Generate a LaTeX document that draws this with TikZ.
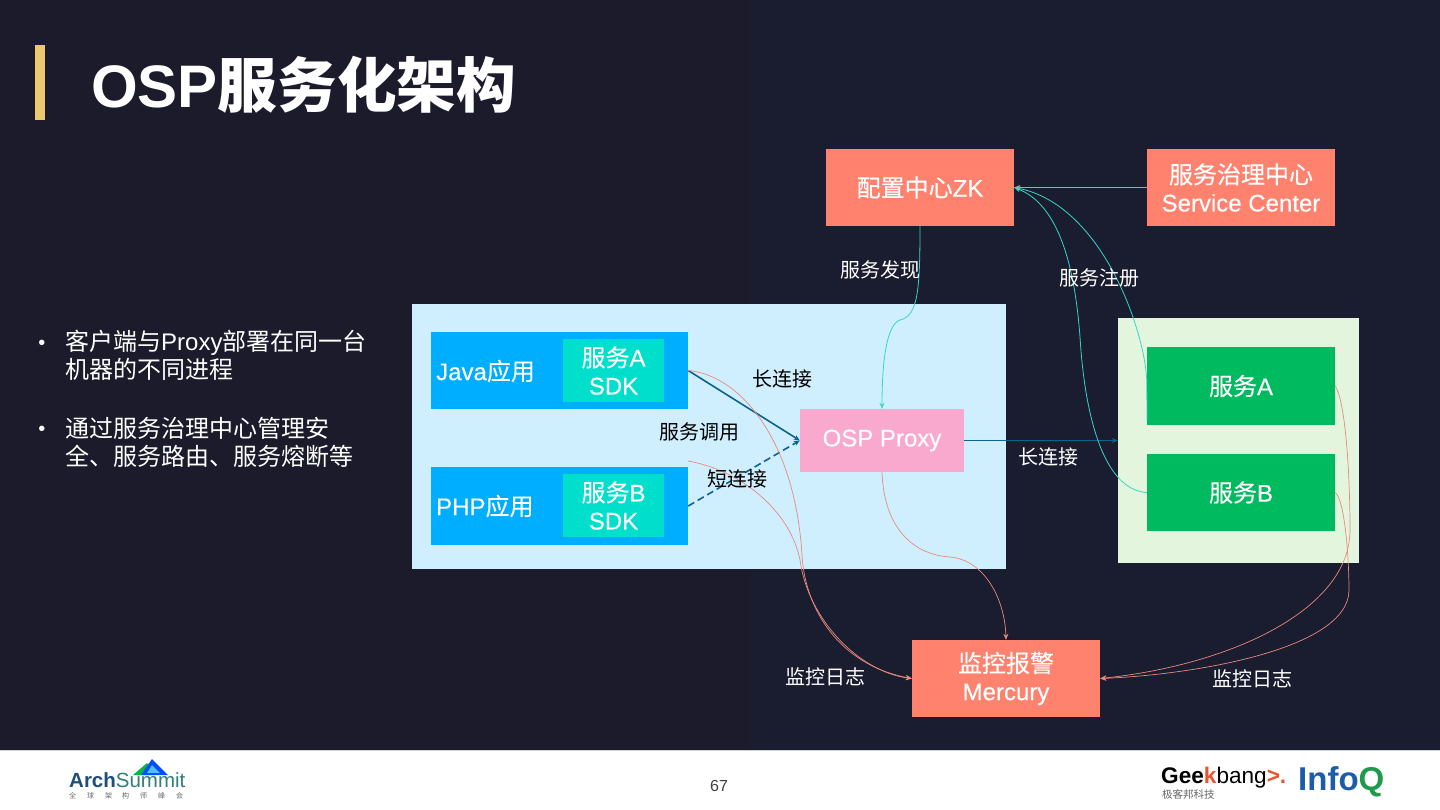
\documentclass[tikz,border=0pt]{standalone}
\usepackage{fontspec}
\setmainfont{Liberation Sans}
\newfontfamily\cjk{Noto Sans CJK SC}
\newfontfamily\cjkm[FakeBold=0.3]{Noto Sans CJK SC}
\newfontfamily\latm[FakeBold=0.3]{Liberation Sans}
\usetikzlibrary{arrows.meta}
\newcommand{\CJ}[1]{{\cjk #1}}
\newcommand{\MC}[1]{{\cjkm #1}}
\definecolor{bgL}{HTML}{1B1B2B}
\definecolor{bgR}{HTML}{1A1C2F}
\definecolor{gold}{HTML}{EBC76E}
\definecolor{coral}{HTML}{FF826E}
\definecolor{skyb}{HTML}{00AEFF}
\definecolor{tealb}{HTML}{00DFCB}
\definecolor{pinkb}{HTML}{F9A9CE}
\definecolor{lblue}{HTML}{D0EFFE}
\definecolor{lgreen}{HTML}{E4F5DE}
\definecolor{greenb}{HTML}{00BA60}
\definecolor{edgeblue}{HTML}{0B6390}
\definecolor{edgeteal}{HTML}{35D6C6}
\definecolor{edgered}{HTML}{E88A7C}
\tikzset{
  box/.style={draw=none,minimum width=188pt,minimum height=77pt,inner sep=0pt,text=white,align=center,font=\fontsize{24}{28}\selectfont\latm},
  panel/.style={draw=none,inner sep=0pt},
  appbox/.style={panel,fill=skyb,minimum width=257pt,minimum height=77pt},
  sdkbox/.style={panel,fill=tealb,minimum width=101pt,minimum height=63pt,text=white,align=center,font=\fontsize{24}{28}\selectfont\latm},
  app label/.style={anchor=west,inner sep=0pt,text=white,font=\fontsize{24}{28}\selectfont\latm},
  white label/.style={inner sep=0pt,text=white,font=\fontsize{20}{24}\selectfont},
  black label/.style={inner sep=0pt,text=black,font=\fontsize{20}{24}\selectfont},
  tip/.style={-{Stealth[length=6pt,width=5pt]}},
  tealline/.style={draw=edgeteal,line width=0.8pt},
  redline/.style={draw=edgered,line width=0.7pt},
  callline/.style={draw=edgeblue,line width=1.6pt},
  bullet text/.style={anchor=north west,inner sep=0pt,align=left,text=white,font=\fontsize{24}{28}\selectfont},
  bullet dot/.style={anchor=center,inner sep=0pt,text=white,font=\fontsize{20}{24}\selectfont},
}
\begin{document}
\begin{tikzpicture}[x=1pt,y=-1pt]
\useasboundingbox (0,0) rectangle (1440,810);
% background
\fill[bgL] (0,0) rectangle (750,750);
\fill[bgR] (750,0) rectangle (1440,750);
\fill[white] (0,750) rectangle (1440,810);
\fill[black!18] (0,749.5) rectangle (1440,751);
\fill[gold] (35,45) rectangle (45,120);
% title
\node[anchor=base west,inner sep=0pt,text=white,font=\fontsize{60}{60}\selectfont\bfseries] (title) at (91,108) {OSP{\cjk\bfseries\fontsize{59.6}{60}\selectfont 服务化架构}};
% bullets
\node[bullet dot] (b1) at (42,345) {•};
\node[bullet text] (t1) at (65,330) {\CJ{客户端与}Proxy\CJ{部署在同一台}\\\CJ{机器的不同进程}};
\node[bullet dot] (b2) at (42,431) {•};
\node[bullet text] (t2) at (65,417) {\CJ{通过服务治理中心管理安}\\\CJ{全、服务路由、服务熔断等}};
% panels
\node[panel,fill=lblue,minimum width=594pt,minimum height=265pt] (bluepanel) at (709,436.5) {};
\node[panel,fill=lgreen,minimum width=241pt,minimum height=245pt] (greenpanel) at (1238.5,440.5) {};
% boxes
\node[box,fill=coral] (zk) at (920,187.5) {\MC{配置中心}ZK};
\node[box,fill=coral] (sc) at (1241,187.5) {\MC{服务治理中心}\\Service Center};
\node[appbox] (java) at (559.5,370.5) {};
\node[sdkbox] (sdka) at (613.5,370.5) {\MC{服务}A\\SDK};
\node[appbox,minimum height=78pt] (php) at (559.5,506) {};
\node[sdkbox] (sdkb) at (613.5,505.5) {\MC{服务}B\\SDK};
\node[app label] (javat) at (436,371) {Java\MC{应用}};
\node[app label] (phpt) at (436,506) {PHP\MC{应用}};
\node[box,fill=pinkb,minimum width=164pt,minimum height=63pt] (proxy) at (882,440.5) {OSP Proxy};
\node[box,fill=greenb,minimum height=78pt] (sa) at (1241,386) {\MC{服务}A};
\node[box,fill=greenb] (sb) at (1241,492.5) {\MC{服务}B};
\node[box,fill=coral] (merc) at (1006,678.5) {\MC{监控报警}\\Mercury};
% coordinates for free ends
\coordinate (phplog) at (688,461);
\coordinate (sabottom) at (1147,420);
% connectors
\draw[callline,tip] (java.east) -- (proxy.west);
\draw[callline,dash pattern=on 7pt off 4pt,tip] (php.east) -- (proxy.west);
\draw[draw=edgeblue,line width=1.2pt,tip] (proxy.east) -- (greenpanel.west |- proxy.east);
\draw[draw=edgered,line width=1pt,tip] (sc.west) -- (zk.east);
\draw[tealline,tip] (zk.south) .. controls (920,290) and (918,316) .. (900,320) .. controls (885,325) and (882,370) .. (proxy.north);
\draw[tealline,tip] (sabottom) -- (sa.west) .. controls (1148,340) and (1105,205) .. (zk.east);
\draw[tealline,tip] (sb.west) .. controls (1105,490) and (1085,420) .. (1080,337) .. controls (1075,270) and (1060,205) .. (zk.east);
\draw[redline,tip] (java.east) .. controls (740,375) and (795,440) .. (802,555) .. controls (805,610) and (840,665) .. (merc.west);
\draw[redline,tip] (phplog) .. controls (740,470) and (790,510) .. (800,560) .. controls (808,620) and (860,672) .. (merc.west);
\draw[redline,tip] (proxy.south) .. controls (884,530) and (915,555) .. (950,557) .. controls (985,560) and (1005,600) .. (merc.north);
\draw[redline,tip] (sa.east) .. controls (1345,400) and (1350,470) .. (1350,530) .. controls (1350,610) and (1230,665) .. (merc.east);
\draw[redline,tip] (sb.east) .. controls (1345,500) and (1349,560) .. (1349,590) .. controls (1349,650) and (1190,675) .. (merc.east);
% labels
\node[white label] (l1) at (880,270) {\CJ{服务发现}};
\node[white label] (l2) at (1099,278) {\CJ{服务注册}};
\node[black label] (l3) at (782,379) {\CJ{长连接}};
\node[black label] (l4) at (699,432) {\CJ{服务调用}};
\node[black label] (l5) at (737,479) {\CJ{短连接}};
\node[white label] (l6) at (1048,457) {\CJ{长连接}};
\node[white label] (l7) at (825,677) {\CJ{监控日志}};
\node[white label] (l8) at (1252,679) {\CJ{监控日志}};
% page number
\node[inner sep=0pt,text=black!75,font=\fontsize{16}{16}\selectfont] (pg) at (719,786) {67};
% ArchSummit logo
\fill[green!45!teal] (133,775) -- (147,763) -- (155,775) -- cycle;
\fill[blue!70!cyan] (141,775) -- (152,759) -- (168,775) -- cycle;
\fill[blue!35!cyan!70!white] (147,773) -- (152,765) -- (160,773) -- cycle;
\node[anchor=base west,inner sep=0pt,font=\fontsize{20.5}{21}\selectfont] (arch) at (69,787) {\textcolor[HTML]{1F4E79}{\bfseries Arch}\textcolor[HTML]{2F7F7A}{Summit}};
\node[anchor=base west,inner sep=0pt,text=black!60,font=\fontsize{7}{7}\selectfont] (archcn) at (69,798) {\CJ{全\hspace{11pt}球\hspace{11pt}架\hspace{10pt}构\hspace{11pt}师\hspace{11pt}峰\hspace{11pt}会}};
% Geekbang logo
\node[anchor=base west,inner sep=0pt,font=\fontsize{22.6}{23}\selectfont] (geek) at (1161,783) {\textbf{Gee}\textcolor[HTML]{E8552D}{\textbf{k}}bang\textcolor[HTML]{E8552D}{\textbf{>.}}};
\node[anchor=base west,inner sep=0pt,text=black!60,font=\fontsize{10.5}{11}\selectfont] (geekcn) at (1162,798) {\CJ{极客邦科技}};
\node[anchor=base west,inner sep=0pt,font=\fontsize{33}{33}\selectfont\bfseries] (infoq) at (1298,790) {\textcolor[HTML]{1C5CA8}{Info}\textcolor[HTML]{1D9A4A}{Q}};
\end{tikzpicture}
\end{document}
